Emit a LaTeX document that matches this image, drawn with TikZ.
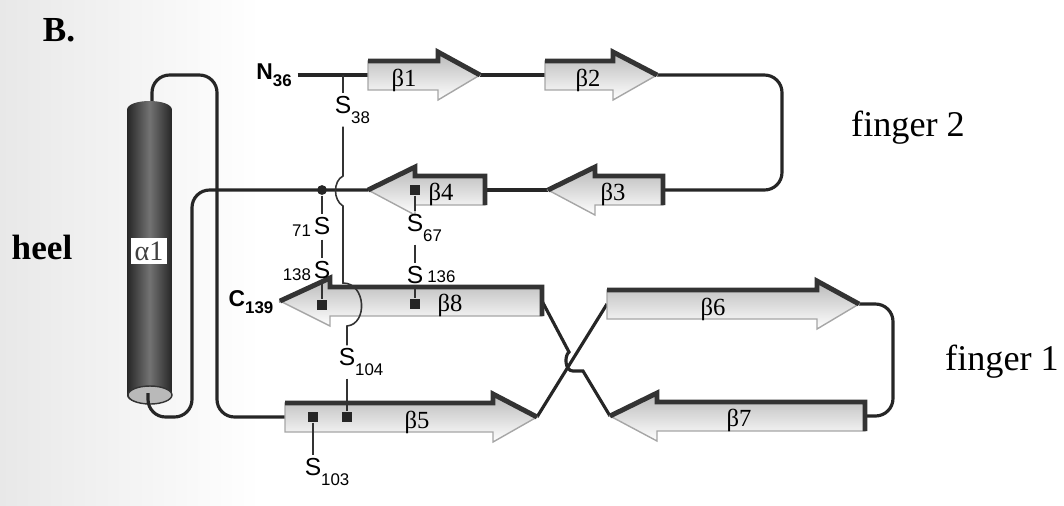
\documentclass[tikz,border=0pt]{standalone}
\usepackage{fontspec}
\setmainfont{Liberation Serif}
\setsansfont{Liberation Sans}
\usetikzlibrary{backgrounds}

\newcommand{\idx}[1]{\raisebox{-0.6ex}{\fontsize{4.8}{5}\selectfont #1}}
\newcommand{\subn}[1]{\rlap{\raisebox{-0.8ex}{\fontsize{4.8}{5}\selectfont #1}}}
\newcommand{\supn}[1]{\rlap{\,\raisebox{0.1ex}{\fontsize{4.8}{5}\selectfont #1}}}
\newcommand{\pren}[1]{\llap{\raisebox{-0.2ex}{\fontsize{4.8}{5}\selectfont #1\,}}}

% name, tail x, head x, tip x, y, label x, label
\newcommand{\rstrand}[7]{%
  \path[strand fill] (#2,#5-14) -- (#3,#5-14) -- (#3,#5-23) -- (#4,#5) -- (#3,#5+25) -- (#3,#5+15) -- (#2,#5+15) -- cycle;
  \draw[strand edge] (#2,#5-14) -- (#3,#5-14) -- (#3,#5-23) -- (#4,#5);
  \coordinate (#1-in) at (#2,#5);
  \coordinate (#1-out) at (#4,#5);
  \node[strand label] (#1) at (#6,#5+5) {#7};
}
\newcommand{\lstrand}[7]{%
  \path[strand fill] (#2,#5-14) -- (#3,#5-14) -- (#3,#5-23) -- (#4,#5) -- (#3,#5+25) -- (#3,#5+15) -- (#2,#5+15) -- cycle;
  \draw[strand edge] (#2,#5+15) -- (#2,#5-14) -- (#3,#5-14) -- (#3,#5-23) -- (#4,#5);
  \coordinate (#1-in) at (#2,#5);
  \coordinate (#1-out) at (#4,#5);
  \node[strand label] (#1) at (#6,#5+4) {#7};
}

\tikzset{
  chain/.style={line width=0.9pt, black!85, rounded corners=5pt},
  ssbond/.style={line width=0.45pt, black!80},
  strand fill/.style={top color=gray!55, bottom color=white, draw=gray!70, line width=0.4pt},
  strand edge/.style={line width=1.4pt, black!80},
  strand label/.style={font=\fontsize{7}{7}\selectfont, inner sep=0pt},
  sul/.style={font=\sffamily\fontsize{7}{7}\selectfont, inner sep=0.6pt},
  term/.style={font=\sffamily\bfseries\fontsize{6.5}{7}\selectfont, inner sep=1.5pt},
  ssq/.style={rectangle, fill=black!85, minimum size=2.8pt, inner sep=0pt},
  sdot/.style={circle, fill=black!85, minimum size=2.8pt, inner sep=0pt},
  side/.style={font=\fontsize{10.3}{12}\selectfont},
  tag/.style={font=\bfseries\fontsize{10}{12}\selectfont}
}

\begin{document}
\begin{tikzpicture}[x=0.01cm, y=-0.01cm]
  \useasboundingbox (0,0) rectangle (1064,505);
  \begin{scope}[on background layer]
    \fill[left color=gray!18, right color=white] (0,0) rectangle (260,505);
  \end{scope}

  \node[tag] (panel) at (59,30) {B.};
  \node[tag] (heel) at (42,247) {heel};
  \node[side] (f2) at (908,128) {finger 2};
  \node[side] (f1) at (1002,362) {finger 1};

  \node[term] (n36) at (274,75) {N\idx{36}};
  \node[term] (c139) at (251,302) {C\idx{139}};
  \coordinate (a1-top) at (152,115);
  \coordinate (a1-bot) at (148,393);

  % helix
  \draw[chain] (a1-top) -- (152,75) -- (217,75) -- (217,417) -- (285,417);
  \path[left color=black!85, right color=black!85, middle color=black!55]
    (127,395) -- (127,110) .. controls (127,98) and (172,98) .. (172,110)
    -- (172,395) .. controls (172,407) and (127,407) .. (127,395) -- cycle;
  \filldraw[fill=gray!55, draw=black!80, line width=0.4pt] (150,395) ellipse [x radius=22, y radius=9];
  \node[fill=white, text=black!75, inner sep=1pt, font=\fontsize{8}{8}\selectfont] (a1) at (149,251) {α1};

  % strands
  \rstrand{b1}{368}{438}{480}{75}{404}{β1}
  \rstrand{b2}{545}{613}{657}{75}{588}{β2}
  \lstrand{b3}{663}{595}{548}{190}{613}{β3}
  \lstrand{b4}{485}{415}{368}{190}{441}{β4}
  \lstrand{b8}{542}{330}{280}{301}{450}{β8}
  \rstrand{b6}{607}{817}{859}{304}{713}{β6}
  \lstrand{b7}{865}{657}{610}{416}{739}{β7}
  \rstrand{b5}{285}{493}{537}{417}{417}{β5}

  \draw[chain] (b4-out) -- (192,190) -- (192,417) -- (148,417) -- (a1-bot);

  \begin{scope}[on background layer]
    \draw[chain] (n36) -- (b1-in);
    \draw[chain] (b1-out) -- (b2-in);
    \draw[chain] (b2-out) -- (782,75) -- (782,190) -- (b3-in);
    \draw[chain] (b3-out) -- (b4-in);
    \draw[chain] (b6-out) -- (893,304) -- (893,416) -- (b7-in);
    \draw[chain, sharp corners] (b7-out) -- (583,371) -- (573,371)
      .. controls (565,371) and (564,356) .. (569,352) -- (b8-in);
    \draw[chain] (b5-out) -- (b6-in);
    \draw[chain] (c139) -- (b8-out);
  \end{scope}

  % disulfides
  \coordinate (c38) at (343,75);
  \node[sdot] (dot71) at (322,190) {};
  \node[ssq] (sq67) at (415,190) {};
  \node[ssq] (sq138) at (322,305) {};
  \node[ssq] (sq136) at (415,304) {};
  \node[ssq] (sq103) at (313,417) {};
  \node[ssq] (sq104) at (347,417) {};
  \node[sul] (s38) at (343,110) {S\subn{38}};
  \node[sul] (s71) at (322,227) {\pren{71}S};
  \node[sul] (s138) at (322,271) {\pren{138}S};
  \node[sul] (s67) at (415,228) {S\subn{67}};
  \node[sul] (s136) at (415,275) {S\supn{136}};
  \node[sul] (s104) at (347,362) {S\subn{104}};
  \node[sul] (s103) at (313,472) {S\subn{103}};

  \draw[ssbond] (c38) -- (s38);
  \draw[ssbond] (s38) -- (343,176) .. controls (333,181) and (333,200) .. (343,206) -- (343,283)
    .. controls (366,283) and (368,324) .. (347,326) -- (s104);
  \draw[ssbond] (s104) -- (sq104);
  \draw[ssbond] (sq103) -- (s103);
  \draw[ssbond] (dot71) -- (s71);
  \draw[ssbond] (s71) -- (s138);
  \draw[ssbond] (s138) -- (sq138);
  \draw[ssbond] (sq67) -- (s67);
  \draw[ssbond] (s67) -- (s136);
  \draw[ssbond] (s136) -- (sq136);
\end{tikzpicture}
\end{document}
